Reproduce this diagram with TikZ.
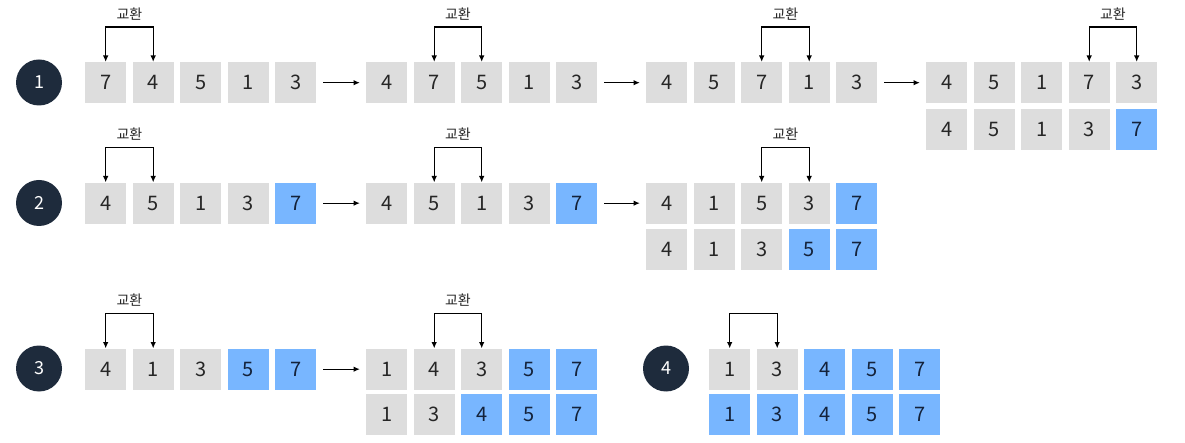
\documentclass[tikz,border=0pt]{standalone}
\usepackage{fontspec}
\setmainfont{Noto Sans CJK KR}
\usetikzlibrary{arrows.meta,calc}
\definecolor{cellgray}{HTML}{DDDDDD}
\definecolor{cellblue}{HTML}{78B6FF}
\definecolor{navy}{HTML}{1E2B3C}
\definecolor{ink}{HTML}{262626}
\definecolor{bluetext}{HTML}{14223A}
\newcommand\cellrow[4]{%
  \foreach \v/\s [count=\i from 0] in {#4}
    \node[\s] (#1-\i) at ({#2+47.5*\i},#3) {\v};}
\newcommand\swapmark[3]{%
  \draw[swapline] (#1.north) -- ++(0,-35) -| (#2.north);
  \ifx&#3&\else
  \node[lbl] (#1-lbl) at ($(#1.north)!0.5!(#2.north)+(0,-48)$) {#3};\fi}
\begin{document}
\begin{tikzpicture}[x=1pt,y=-1pt,
  cell/.style={minimum size=41pt, inner sep=0pt, anchor=north west,
    font=\fontsize{20}{20}\selectfont},
  gc/.style={cell, fill=cellgray, text=ink},
  bc/.style={cell, fill=cellblue, text=bluetext},
  badge/.style={circle, fill=navy, minimum size=46pt, inner sep=0pt,
    text=white, font=\fontsize{18}{18}\selectfont},
  flow/.style={-{Latex[length=6.5pt,width=5.5pt]}, line width=1.3pt, draw=black},
  swapline/.style={{Latex[length=6.5pt,width=5.5pt]}-{Latex[length=6.5pt,width=5.5pt]},
    line width=1.3pt, draw=black},
  lbl/.style={font=\fontsize{14}{14}\selectfont, text=ink}]
\useasboundingbox (0,0) rectangle (1185,443);

% badges
\node[badge] (n1) at (39,82.5) {1};
\node[badge] (n2) at (39,203) {2};
\node[badge] (n3) at (39,368.5) {3};
\node[badge] (n4) at (666,368.5) {4};

% row 1
\cellrow{a}{85}{62}{7/gc,4/gc,5/gc,1/gc,3/gc}
\cellrow{b}{366}{62}{4/gc,7/gc,5/gc,1/gc,3/gc}
\cellrow{c}{646}{62}{4/gc,5/gc,7/gc,1/gc,3/gc}
\cellrow{d}{926}{62}{4/gc,5/gc,1/gc,7/gc,3/gc}
\cellrow{dd}{926}{108.5}{4/gc,5/gc,1/gc,3/gc,7/bc}
\swapmark{a-0}{a-1}{교환}
\swapmark{b-1}{b-2}{교환}
\swapmark{c-2}{c-3}{교환}
\swapmark{d-3}{d-4}{교환}
\draw[flow] ([xshift=7pt]a-4.east) -- ([xshift=-6pt]b-0.west);
\draw[flow] ([xshift=7pt]b-4.east) -- ([xshift=-6pt]c-0.west);
\draw[flow] ([xshift=7pt]c-4.east) -- ([xshift=-6pt]d-0.west);

% row 2
\cellrow{e}{85}{182.5}{4/gc,5/gc,1/gc,3/gc,7/bc}
\cellrow{f}{366}{182.5}{4/gc,5/gc,1/gc,3/gc,7/bc}
\cellrow{g}{646}{182.5}{4/gc,1/gc,5/gc,3/gc,7/bc}
\cellrow{gg}{646}{229}{4/gc,1/gc,3/gc,5/bc,7/bc}
\swapmark{e-0}{e-1}{교환}
\swapmark{f-1}{f-2}{교환}
\swapmark{g-2}{g-3}{교환}
\draw[flow] ([xshift=7pt]e-4.east) -- ([xshift=-6pt]f-0.west);
\draw[flow] ([xshift=7pt]f-4.east) -- ([xshift=-6pt]g-0.west);

% row 3
\cellrow{h}{85}{348.5}{4/gc,1/gc,3/gc,5/bc,7/bc}
\cellrow{k}{366}{348.5}{1/gc,4/gc,3/gc,5/bc,7/bc}
\cellrow{kk}{366}{394}{1/gc,3/gc,4/bc,5/bc,7/bc}
\swapmark{h-0}{h-1}{교환}
\swapmark{k-1}{k-2}{교환}
\draw[flow] ([xshift=7pt]h-4.east) -- ([xshift=-6pt]k-0.west);

% step 4
\cellrow{m}{709}{348.5}{1/gc,3/gc,4/bc,5/bc,7/bc}
\cellrow{mm}{709}{394}{1/bc,3/bc,4/bc,5/bc,7/bc}
\swapmark{m-0}{m-1}{}
\end{tikzpicture}
\end{document}
